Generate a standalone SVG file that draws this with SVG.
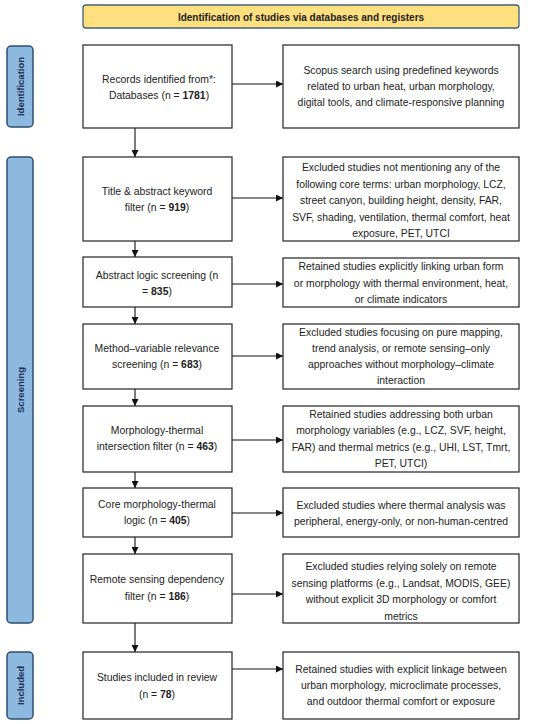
<svg xmlns="http://www.w3.org/2000/svg" width="550" height="724" viewBox="0 0 550 724">
<defs>
<style>
.bx{fill:#fff;stroke:#222;stroke-width:1.2}
.t{font-family:"Liberation Sans",Arial,sans-serif;font-size:10.4px;fill:#222;text-anchor:middle}
.b{font-weight:bold}
.side{fill:#8DB8E0;stroke:#2E4F6E;stroke-width:1.5}
.st{font-family:"Liberation Sans",Arial,sans-serif;font-size:9.5px;font-weight:bold;fill:#1F2F4F;text-anchor:middle}
.c{stroke:#111;stroke-width:1.1;fill:none;marker-end:url(#ah)}
</style>
<marker id="ah" viewBox="0 0 10 10" refX="10" refY="5" markerWidth="7" markerHeight="7" markerUnits="userSpaceOnUse" orient="auto">
<path d="M0,0 L10,5 L0,10 z" fill="#111"/>
</marker>
</defs>
<rect width="550" height="724" fill="#fff"/>

<g id="banner">
<rect x="83" y="5" width="436" height="23" rx="3" fill="#FFE07F" stroke="#41607A" stroke-width="1.3"/>
<text class="t b" x="301" y="20.5" style="font-size:10px">Identification of studies via databases and registers</text>
</g>

<g id="side-identification">
<rect class="side" x="7" y="46" width="26" height="81" rx="4"/>
<text class="st" transform="translate(23.5,86.5) rotate(-90)">Identification</text>
</g>
<g id="side-screening">
<rect class="side" x="7" y="157" width="26" height="466" rx="4"/>
<text class="st" transform="translate(23.5,390) rotate(-90)">Screening</text>
</g>
<g id="side-included">
<rect class="side" x="7" y="652" width="26" height="67" rx="4"/>
<text class="st" transform="translate(23.5,685.5) rotate(-90)">Included</text>
</g>

<g id="connectors">
<path class="c" d="M232,84 H283"/>
<path class="c" d="M135,128 V157"/>
<path class="c" d="M232,198 H283"/>
<path class="c" d="M135,241 V257"/>
<path class="c" d="M232,284 H283"/>
<path class="c" d="M135,307 V324"/>
<path class="c" d="M232,356 H283"/>
<path class="c" d="M135,389 V406"/>
<path class="c" d="M232,440 H283"/>
<path class="c" d="M135,472 V488"/>
<path class="c" d="M232,513 H283"/>
<path class="c" d="M135,537 V554"/>
<path class="c" d="M232,594 H283"/>
<path class="c" d="M135,623 V652"/>
<path class="c" d="M232,669 H283"/>
</g>

<g id="n1">
<rect class="bx" x="83" y="45" width="149" height="83"/>
<text class="t" x="159" y="83">Records identified from*:</text>
<text class="t" x="159" y="99">Databases (n = <tspan class="b">1781</tspan>)</text>
</g>
<g id="r1">
<rect class="bx" x="283" y="45" width="236" height="83"/>
<text class="t" x="401" y="74">Scopus search using predefined keywords</text>
<text class="t" x="401" y="90">related to urban heat, urban morphology,</text>
<text class="t" x="401" y="106">digital tools, and climate-responsive planning</text>
</g>

<g id="n2">
<rect class="bx" x="83" y="157" width="149" height="84"/>
<text class="t" x="157" y="195">Title &amp; abstract keyword</text>
<text class="t" x="157" y="211">filter (n = <tspan class="b">919</tspan>)</text>
</g>
<g id="r2">
<rect class="bx" x="283" y="157" width="236" height="84"/>
<text class="t" x="401" y="171">Excluded studies not mentioning any of the</text>
<text class="t" x="401" y="187.5">following core terms: urban morphology, LCZ,</text>
<text class="t" x="401" y="204">street canyon, building height, density, FAR,</text>
<text class="t" x="401" y="220.5">SVF, shading, ventilation, thermal comfort, heat</text>
<text class="t" x="401" y="237">exposure, PET, UTCI</text>
</g>

<g id="n3">
<rect class="bx" x="83" y="257" width="149" height="50"/>
<text class="t" x="157" y="278.5">Abstract logic screening (n</text>
<text class="t" x="157" y="295">= <tspan class="b">835</tspan>)</text>
</g>
<g id="r3">
<rect class="bx" x="283" y="258" width="236" height="49"/>
<text class="t" x="401" y="270">Retained studies explicitly linking urban form</text>
<text class="t" x="401" y="286.5">or morphology with thermal environment, heat,</text>
<text class="t" x="401" y="303">or climate indicators</text>
</g>

<g id="n4">
<rect class="bx" x="83" y="324" width="149" height="65"/>
<text class="t" x="157" y="351.5">Method–variable relevance</text>
<text class="t" x="157" y="367.5">screening (n = <tspan class="b">683</tspan>)</text>
</g>
<g id="r4">
<rect class="bx" x="283" y="324" width="236" height="65"/>
<text class="t" x="401" y="335.5">Excluded studies focusing on pure mapping,</text>
<text class="t" x="401" y="351.5">trend analysis, or remote sensing–only</text>
<text class="t" x="401" y="367.5">approaches without morphology–climate</text>
<text class="t" x="401" y="384">interaction</text>
</g>

<g id="n5">
<rect class="bx" x="83" y="406" width="149" height="66"/>
<text class="t" x="157" y="433.5">Morphology-thermal</text>
<text class="t" x="157" y="449.5">intersection filter (n = <tspan class="b">463</tspan>)</text>
</g>
<g id="r5">
<rect class="bx" x="283" y="406" width="236" height="66"/>
<text class="t" x="401" y="417.5">Retained studies addressing both urban</text>
<text class="t" x="401" y="434">morphology variables (e.g., LCZ, SVF, height,</text>
<text class="t" x="401" y="450.5">FAR) and thermal metrics (e.g., UHI, LST, Tmrt,</text>
<text class="t" x="401" y="467">PET, UTCI)</text>
</g>

<g id="n6">
<rect class="bx" x="83" y="488" width="149" height="49"/>
<text class="t" x="157" y="508">Core morphology-thermal</text>
<text class="t" x="157" y="524">logic (n = <tspan class="b">405</tspan>)</text>
</g>
<g id="r6">
<rect class="bx" x="283" y="488" width="236" height="49"/>
<text class="t" x="401" y="508.5">Excluded studies where thermal analysis was</text>
<text class="t" x="401" y="524.5">peripheral, energy-only, or non-human-centred</text>
</g>

<g id="n7">
<rect class="bx" x="83" y="554" width="149" height="69"/>
<text class="t" x="157" y="583">Remote sensing dependency</text>
<text class="t" x="157" y="600">filter (n = <tspan class="b">186</tspan>)</text>
</g>
<g id="r7">
<rect class="bx" x="283" y="554" width="236" height="69"/>
<text class="t" x="401" y="570">Excluded studies relying solely on remote</text>
<text class="t" x="401" y="586.5">sensing platforms (e.g., Landsat, MODIS, GEE)</text>
<text class="t" x="401" y="603">without explicit 3D morphology or comfort</text>
<text class="t" x="401" y="619.5">metrics</text>
</g>

<g id="n8">
<rect class="bx" x="83" y="652" width="149" height="67"/>
<text class="t" x="157" y="681">Studies included in review</text>
<text class="t" x="157" y="697.5">(n = <tspan class="b">78</tspan>)</text>
</g>
<g id="r8">
<rect class="bx" x="283" y="652" width="236" height="67"/>
<text class="t" x="401" y="673">Retained studies with explicit linkage between</text>
<text class="t" x="401" y="689">urban morphology, microclimate processes,</text>
<text class="t" x="401" y="705">and outdoor thermal comfort or exposure</text>
</g>
</svg>
